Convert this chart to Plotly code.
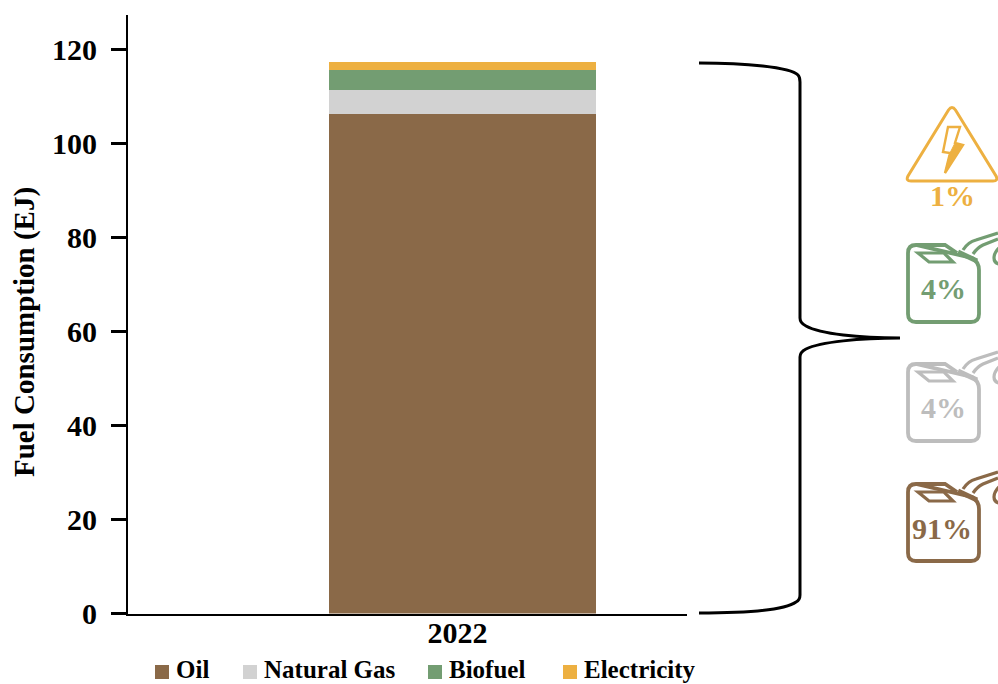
import re
import plotly.graph_objects as go

# Global fuel consumption in 2022, exajoules, stacked bottom to top
years = ["2022"]
fuels = ["Oil", "Natural Gas", "Biofuel", "Electricity"]
oil = [106.2]
natural_gas = [5.2]
biofuel = [4.2]
electricity = [1.7]
series = [oil, natural_gas, biofuel, electricity]
colors = ["#8A6948", "#D2D2D2", "#739D72", "#EDB041"]
y_ticks = [0, 20, 40, 60, 80, 100, 120]

# Share labels beside the icons, top to bottom
share_labels = ["1%", "4%", "4%", "91%"]
share_colors = ["#EDB041", "#739D72", "#BDBDBD", "#8A6948"]

FONT = "Liberation Serif"
W, H = 998, 684
LEFT, RIGHT, TOP, BOTTOM = 128, 687, 15, 613.5

fig = go.Figure()
for name, vals, col in zip(fuels, series, colors):
    fig.add_trace(go.Bar(x=years, y=vals, name=name, width=1,
                         marker=dict(color=col, line=dict(width=0)),
                         showlegend=False))

shapes = []
annotations = []


def px(x):
    return x / W


def py(y):
    return 1 - y / H


def path(d, color, width=3, fill=None):
    """Add an outline given in figure pixels, converted to paper fractions."""
    converted = re.sub(r"(-?[\d.]+),(-?[\d.]+)",
                       lambda m: f"{px(float(m[1])):.5f},{py(float(m[2])):.5f}", d)
    shapes.append(dict(type="path", path=converted, xref="paper", yref="paper",
                       line=dict(color=color, width=width),
                       fillcolor=fill if fill else "rgba(0,0,0,0)",
                       layer="above"))


def label(x, y, text, color, size, anchor="center", angle=0):
    annotations.append(dict(x=px(x), y=py(y), xref="paper", yref="paper",
                            text=f"<b>{text}</b>", showarrow=False, textangle=angle,
                            xanchor=anchor, yanchor="middle",
                            font=dict(family=FONT, size=size, color=color)))


# Curly brace tying the bar to the share icons
path("M699,63 C745,63 790,67 798,75 Q800,77 800,82 L800,318 Q800,323 806,326 "
     "C820,334 860,338 900,338 C860,338 820,342 806,349 Q800,352 800,357 "
     "L800,595 Q800,600 796,602 C785,610 745,613 699,613", "black", 3)

# Warning triangle with a lightning bolt for electricity
amber = share_colors[0]
path("M948.5,110 Q952,105 955.5,110 L996,176 Q998.5,181 993,181 L911,181 "
     "Q905.5,181 908,176 Z", amber, 3)
path("M948,127 L960,127 L955,143 L963,145 L945,173 L950,153 L943,152 Z", amber, 2.4)
path("M955,143 L963,145 L945,173 L950,153 Z", amber, 1, amber)


def jerrycan(dy, color):
    """Fuel can outline with handle slot, collar, spout and a drop at the tip."""
    def t(y):
        return y + dy
    path(f"M916,{t(245)} L945,{t(245)} L957,{t(253)} M972,{t(258)} Q979,{t(262)} 979,{t(270)} "
         f"L979,{t(314)} Q979,{t(322)} 971,{t(322)} L916,{t(322)} Q908,{t(322)} 908,{t(314)} "
         f"L908,{t(253)} Q908,{t(245)} 916,{t(245)} Z", color, 3.8)
    path(f"M918,{t(253)} L944,{t(253)} L953,{t(262)} L929,{t(262)} Z", color, 3.2)
    path(f"M958,{t(252)} L977,{t(261)}", color, 5)
    path(f"M963,{t(250)} Q968,{t(242)} 976,{t(240)} L998,{t(233)}", color, 3.2)
    path(f"M973,{t(254)} Q977,{t(248)} 983,{t(245)} L998,{t(239)}", color, 3.2)
    path(f"M999,{t(248)} Q994,{t(253)} 994,{t(258)} Q994,{t(263)} 999,{t(264)}", color, 3.2)


jerrycan(0, share_colors[1])
jerrycan(119, share_colors[2])
jerrycan(239, share_colors[3])

label(952, 196, share_labels[0], share_colors[0], 30)
label(943, 288, share_labels[1], share_colors[1], 30)
label(943, 407, share_labels[2], share_colors[2], 30)
label(942, 528, share_labels[3], share_colors[3], 30)

# Legend row under the axis
swatch_x = [155, 243, 428, 563]
for name, col, sx in zip(fuels, colors, swatch_x):
    shapes.append(dict(type="rect", xref="paper", yref="paper",
                       x0=px(sx), x1=px(sx + 14), y0=py(665), y1=py(679),
                       fillcolor=col, line=dict(width=0)))
    label(sx + 18.5, 669.5, name, "black", 25, "left")

# Value axis title
label(24, 332, "Fuel Consumption (EJ)", "black", 29, "center", -90)

tick_font = dict(family=FONT, size=30, color="black", weight="bold")

fig.update_layout(
    width=W, height=H, autosize=False,
    margin=dict(l=0, r=0, t=0, b=0),
    paper_bgcolor="white", plot_bgcolor="white",
    barmode="stack", bargap=0,
    font=dict(family=FONT, color="black"),
    shapes=shapes, annotations=annotations,
    xaxis=dict(domain=[LEFT / W, RIGHT / W], type="category",
               range=[-334.5 / 267, 224.5 / 267], showgrid=False, zeroline=False,
               showline=True, linecolor="black", linewidth=2, ticks="",
               ticklabelshift=-5, ticklabelstandoff=-9, automargin=False,
               tickfont=tick_font),
    yaxis=dict(domain=[(H - BOTTOM) / H, (H - TOP) / H],
               range=[0, (BOTTOM - TOP) / 4.7], tickvals=y_ticks, showgrid=False,
               zeroline=False, showline=True, linecolor="black", linewidth=2,
               ticks="outside", ticklen=15, tickwidth=2.5, tickcolor="black",
               ticklabelstandoff=8, automargin=False, tickfont=tick_font),
)

fig.write_html("out.html", config=dict(displayModeBar=False))
